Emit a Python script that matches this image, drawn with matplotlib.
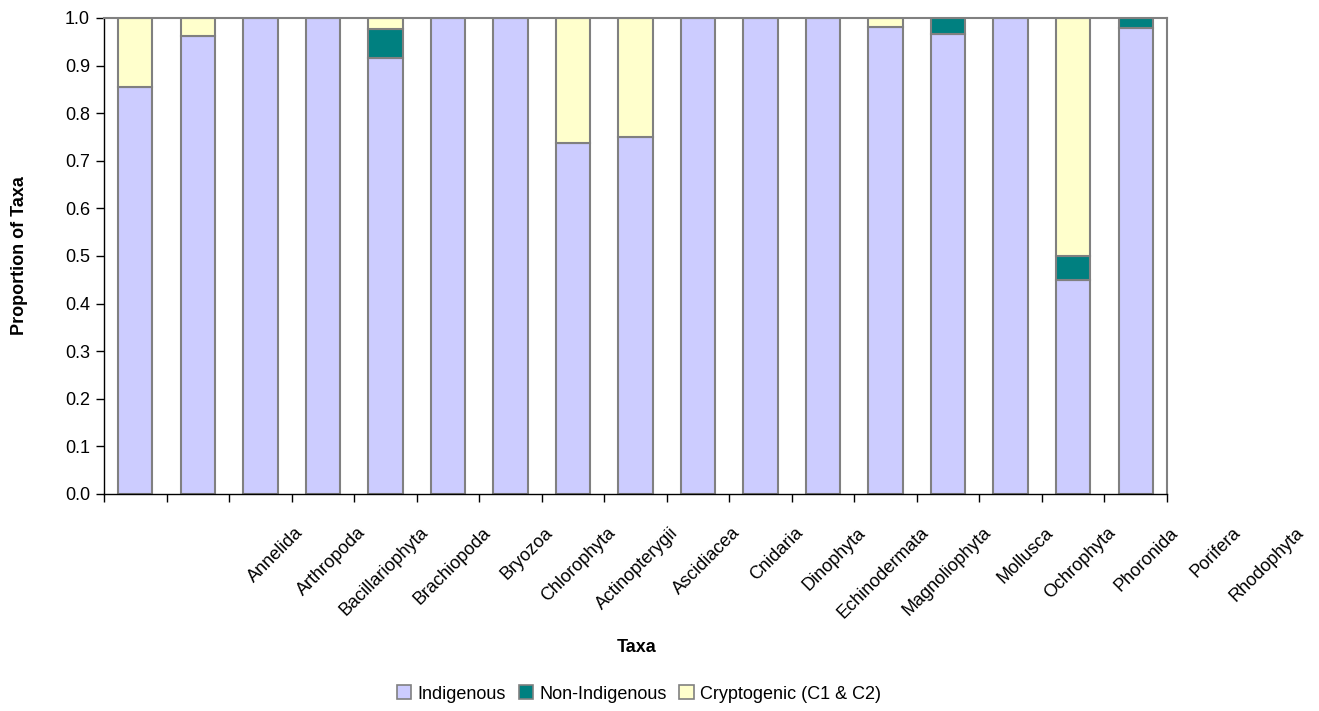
import matplotlib
matplotlib.use("Agg")
import matplotlib.pyplot as plt
from matplotlib.patches import Patch
import numpy as np

plt.rcParams['font.family'] = ['Liberation Sans', 'DejaVu Sans']

labels = ["Annelida", "Arthropoda", "Bacillariophyta", "Brachiopoda", "Bryozoa",
          "Chlorophyta", "Actinopterygii", "Ascidiacea", "Cnidaria", "Dinophyta",
          "Echinodermata", "Magnoliophyta", "Mollusca", "Ochrophyta", "Phoronida",
          "Porifera", "Rhodophyta"]
indigenous = [0.854, 0.962, 1.0, 1.0, 0.915, 1.0, 1.0, 0.737, 0.75, 1.0, 1.0, 1.0,
              0.982, 0.966, 1.0, 0.45, 0.979]
non_indigenous = [0.0, 0.0, 0.0, 0.0, 0.062, 0.0, 0.0, 0.0, 0.0, 0.0, 0.0, 0.0,
                  0.0, 0.034, 0.0, 0.05, 0.021]
cryptogenic = [0.146, 0.038, 0.0, 0.0, 0.023, 0.0, 0.0, 0.263, 0.25, 0.0, 0.0, 0.0,
               0.018, 0.0, 0.0, 0.50, 0.0]
series_names = ["Indigenous", "Non-Indigenous", "Cryptogenic (C1 & C2)"]
colors = ["#CCCCFF", "#008080", "#FFFFCC"]
edge = "#808080"

fig = plt.figure(figsize=(13.19, 7.11), dpi=100)
ax = fig.add_axes([104/1319, 1-494/711, (1167-104)/1319, (494-18)/711])

n = len(indigenous)
x = np.arange(n)
w = 0.55
ind = np.array(indigenous)
non = np.array(non_indigenous)
cry = np.array(cryptogenic)
for vals, bottom, c in [(ind, np.zeros(n), colors[0]), (non, ind, colors[1]), (cry, ind + non, colors[2])]:
    mask = vals > 0
    ax.bar(x[mask], vals[mask], w, bottom=bottom[mask], color=c, edgecolor=edge, linewidth=1.5, zorder=2)

ax.set_xlim(-0.5, n - 0.5)
ax.set_ylim(0, 1.0)
ax.set_yticks(np.arange(0, 1.01, 0.1))
ax.set_yticklabels([f"{v:.1f}" for v in np.arange(0, 1.01, 0.1)], fontsize=13)
ax.set_xticks(np.arange(-0.5, n, 1.0))
ax.set_xticklabels([])
ax.tick_params(axis='both', direction='out', length=6, width=1, color='black')
ax.tick_params(axis='y', pad=4)

for s in ['top', 'right']:
    ax.spines[s].set_color(edge)
    ax.spines[s].set_linewidth(1.5)
for s in ['left', 'bottom']:
    ax.spines[s].set_color('black')
    ax.spines[s].set_linewidth(1)

trans = matplotlib.transforms.blended_transform_factory(ax.transData, ax.transAxes)
for i, lab in enumerate(labels):
    ax.text(i + 2.64, -0.076, lab, rotation=45, ha='right', va='center',
            rotation_mode='anchor', fontsize=13, transform=trans)

fig.text(637/1319, 1-647/711, "Taxa", ha='center', va='center', fontsize=13, fontweight='bold')
fig.text(20/1319, 1-256/711, "Proportion of Taxa", ha='center', va='center', rotation=90,
         fontsize=13, fontweight='bold')

handles = [Patch(facecolor=c, edgecolor=edge, linewidth=1.2) for c in colors]
fig.legend(handles, series_names, loc='center', bbox_to_anchor=(639/1319, 1-694/711), ncol=3,
           frameon=False, fontsize=13, handlelength=0.8, handleheight=0.8, handletextpad=0.35,
           columnspacing=0.7)

fig.savefig("out.png", dpi=100)
